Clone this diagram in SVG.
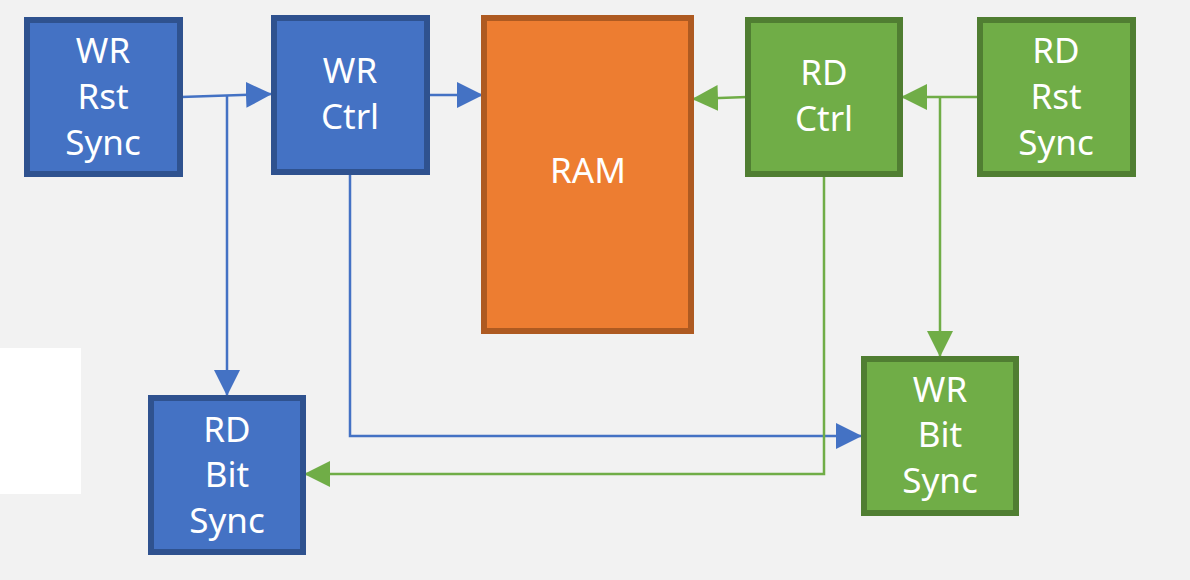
<svg xmlns="http://www.w3.org/2000/svg" width="1190" height="580" viewBox="0 0 1190 580">
<defs>
<style>
.blue{fill:#4472c4;stroke:#2f528f;stroke-width:6}
.green{fill:#70ad47;stroke:#507e32;stroke-width:6}
.orange{fill:#ed7d31;stroke:#ae5a21;stroke-width:6}
.lbl{font-family:"Noto Sans","Open Sans",sans-serif;font-size:35px;fill:#ffffff;text-anchor:middle}
.cb{fill:none;stroke:#4472c4;stroke-width:2.5}
.cg{fill:none;stroke:#70ad47;stroke-width:2.5}
</style>
<marker id="ab" markerUnits="userSpaceOnUse" markerWidth="27" markerHeight="27" refX="26" refY="13" orient="auto"><path d="M0,0 L26,13 L0,26 z" fill="#4472c4"/></marker>
<marker id="ag" markerUnits="userSpaceOnUse" markerWidth="27" markerHeight="27" refX="26" refY="13" orient="auto"><path d="M0,0 L26,13 L0,26 z" fill="#70ad47"/></marker>
</defs>
<rect width="1190" height="580" fill="#f2f2f2"/>
<rect x="0" y="348" width="81" height="146" fill="#ffffff"/>
<g id="connectors">
<path class="cb" d="M181,97 L272,94" marker-end="url(#ab)"/>
<path class="cb" d="M227,96 L227,396" marker-end="url(#ab)"/>
<path class="cb" d="M428,95 L483,95" marker-end="url(#ab)"/>
<path class="cb" d="M350,174 L350,436 L862,436" marker-end="url(#ab)"/>
<path class="cg" d="M747,97 L692,99" marker-end="url(#ag)"/>
<path class="cg" d="M979,97 L901,97" marker-end="url(#ag)"/>
<path class="cg" d="M940,97 L940,357" marker-end="url(#ag)"/>
<path class="cg" d="M824,175 L824,474 L304,474" marker-end="url(#ag)"/>
</g>
<g id="wr-rst-sync">
<rect class="blue" x="27" y="20" width="153" height="154"/>
<text class="lbl"><tspan x="103" y="63">WR</tspan><tspan x="103" y="109">Rst</tspan><tspan x="103" y="155">Sync</tspan></text>
</g>
<g id="wr-ctrl">
<rect class="blue" x="274" y="18" width="153" height="154"/>
<text class="lbl"><tspan x="350" y="83">WR</tspan><tspan x="350" y="129">Ctrl</tspan></text>
</g>
<g id="ram">
<rect class="orange" x="484" y="18" width="207" height="313"/>
<text class="lbl" x="588" y="183">RAM</text>
</g>
<g id="rd-ctrl">
<rect class="green" x="748" y="20" width="152" height="154"/>
<text class="lbl"><tspan x="824" y="85">RD</tspan><tspan x="824" y="131">Ctrl</tspan></text>
</g>
<g id="rd-rst-sync">
<rect class="green" x="980" y="20" width="153" height="154"/>
<text class="lbl"><tspan x="1056" y="63">RD</tspan><tspan x="1056" y="109">Rst</tspan><tspan x="1056" y="155">Sync</tspan></text>
</g>
<g id="rd-bit-sync">
<rect class="blue" x="151" y="398" width="152" height="154"/>
<text class="lbl"><tspan x="227" y="442">RD</tspan><tspan x="227" y="487">Bit</tspan><tspan x="227" y="533">Sync</tspan></text>
</g>
<g id="wr-bit-sync">
<rect class="green" x="864" y="359" width="152" height="154"/>
<text class="lbl"><tspan x="940" y="402">WR</tspan><tspan x="940" y="447">Bit</tspan><tspan x="940" y="493">Sync</tspan></text>
</g>
</svg>
